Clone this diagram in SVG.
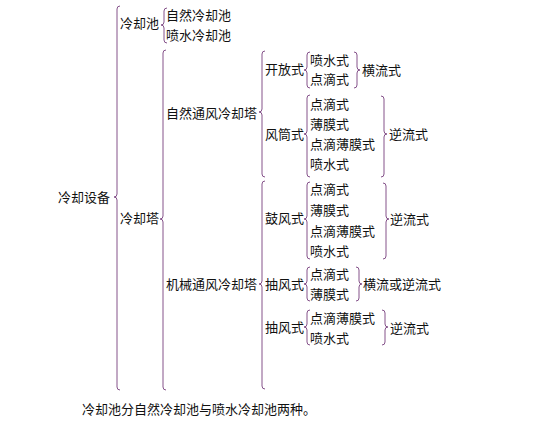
<svg xmlns="http://www.w3.org/2000/svg" width="558" height="428" viewBox="0 0 558 428">
<style>
text{font-family:"Noto Sans CJK SC","Noto Sans CJK JP",sans-serif;font-size:13px;fill:#111}
.br{fill:none;stroke:#85528a;stroke-width:1}
</style>
<rect width="558" height="428" fill="#fff"/>
<g id="connectors">
<path class="br" d="M120 6Q117 6 117 9V194Q117 197 114 197Q117 197 117 200V387Q117 390 120 390"/>
<path class="br" d="M167 8Q164 8 164 11V22Q164 25 161 25Q164 25 164 28V40Q164 43 167 43"/>
<path class="br" d="M166 50Q163 50 163 53V216Q163 219 160 219Q163 219 163 222V387Q163 390 166 390"/>
<path class="br" d="M265 51Q262 51 262 54V109Q262 112 259 112Q262 112 262 115V174Q262 177 265 177"/>
<path class="br" d="M310 52Q307 52 307 55V67Q307 70 304 70Q307 70 307 73V85Q307 88 310 88"/>
<path class="br" d="M354 52Q357 52 357 55V67Q357 70 360 70Q357 70 357 73V85Q357 88 354 88"/>
<path class="br" d="M310 95Q307 95 307 98V131Q307 134 304 134Q307 134 307 137V174Q307 177 310 177"/>
<path class="br" d="M381 96Q384 96 384 99V131Q384 134 387 134Q384 134 384 137V174Q384 177 381 177"/>
<path class="br" d="M265 181Q262 181 262 184V281Q262 284 259 284Q262 284 262 287V386Q262 389 265 389"/>
<path class="br" d="M310 182Q307 182 307 185V216Q307 219 304 219Q307 219 307 222V256Q307 259 310 259"/>
<path class="br" d="M383 183Q386 183 386 186V216Q386 219 389 219Q386 219 386 222V256Q386 259 383 259"/>
<path class="br" d="M310 267Q307 267 307 270V281Q307 284 304 284Q307 284 307 287V298Q307 301 310 301"/>
<path class="br" d="M356 267Q359 267 359 270V281Q359 284 362 284Q359 284 359 287V298Q359 301 356 301"/>
<path class="br" d="M310 310Q307 310 307 313V324Q307 327 304 327Q307 327 307 330V342Q307 345 310 345"/>
<path class="br" d="M382 310Q385 310 385 313V324Q385 327 388 327Q385 327 385 330V342Q385 345 382 345"/>
</g>
<g id="n-root"><text x="58" y="202">冷却设备</text></g>
<g id="n-pool"><text x="120" y="28">冷却池</text></g>
<g id="n-pool-natural"><text x="166" y="20">自然冷却池</text></g>
<g id="n-pool-spray"><text x="166" y="40">喷水冷却池</text></g>
<g id="n-tower"><text x="120" y="223">冷却塔</text></g>
<g id="n-natural"><text x="166" y="118">自然通风冷却塔</text></g>
<g id="n-mech"><text x="166" y="289">机械通风冷却塔</text></g>
<g id="n-open"><text x="265" y="74">开放式</text></g>
<g id="n-open-1"><text x="310" y="65">喷水式</text></g>
<g id="n-open-2"><text x="310" y="84">点滴式</text></g>
<g id="n-open-flow"><text x="362" y="75">横流式</text></g>
<g id="n-chimney"><text x="265" y="139">风筒式</text></g>
<g id="n-chimney-1"><text x="310" y="109">点滴式</text></g>
<g id="n-chimney-2"><text x="310" y="129">薄膜式</text></g>
<g id="n-chimney-3"><text x="310" y="149">点滴薄膜式</text></g>
<g id="n-chimney-4"><text x="310" y="169">喷水式</text></g>
<g id="n-chimney-flow"><text x="389" y="139">逆流式</text></g>
<g id="n-forced"><text x="265" y="223">鼓风式</text></g>
<g id="n-forced-1"><text x="310" y="194">点滴式</text></g>
<g id="n-forced-2"><text x="310" y="215">薄膜式</text></g>
<g id="n-forced-3"><text x="310" y="236">点滴薄膜式</text></g>
<g id="n-forced-4"><text x="310" y="256">喷水式</text></g>
<g id="n-forced-flow"><text x="390" y="224">逆流式</text></g>
<g id="n-induced-a"><text x="265" y="289">抽风式</text></g>
<g id="n-induced-a-1"><text x="310" y="279">点滴式</text></g>
<g id="n-induced-a-2"><text x="310" y="299">薄膜式</text></g>
<g id="n-induced-a-flow"><text x="363" y="289">横流或逆流式</text></g>
<g id="n-induced-b"><text x="265" y="332">抽风式</text></g>
<g id="n-induced-b-1"><text x="310" y="323">点滴薄膜式</text></g>
<g id="n-induced-b-2"><text x="310" y="343">喷水式</text></g>
<g id="n-induced-b-flow"><text x="390" y="333">逆流式</text></g>
<g id="caption"><text x="82" y="414">冷却池分自然冷却池与喷水冷却池两种。</text></g>
</svg>
